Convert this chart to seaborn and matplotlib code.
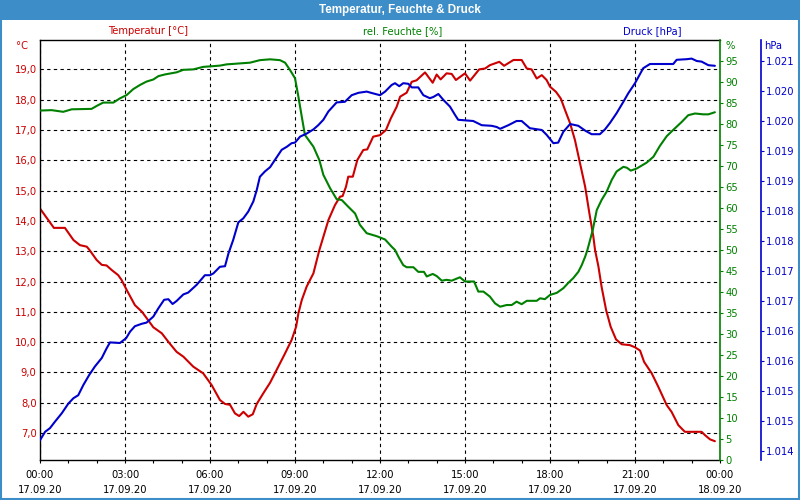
import numpy as np
import pandas as pd
import seaborn as sns
import matplotlib
matplotlib.use("Agg")
import matplotlib.pyplot as plt
from matplotlib.ticker import FuncFormatter, MultipleLocator
from matplotlib.patches import Rectangle

# ---------------- data ----------------
temp_hours = [0.00, 0.49, 0.88, 1.18, 1.41, 1.65, 1.74, 2.00, 2.18, 2.35, 2.53, 2.76, 2.88, 3.06, 3.35,
              3.60, 4.00, 4.30, 4.53, 4.82, 5.06, 5.41, 5.76, 6.06, 6.35, 6.53, 6.71, 6.88, 7.03, 7.18,
              7.35, 7.51, 7.65, 7.88, 8.12, 8.35, 8.65, 8.88, 9.04, 9.12, 9.24, 9.41, 9.65, 9.86, 10.18,
              10.41, 10.59, 10.68, 10.80, 10.88, 11.04, 11.20, 11.41, 11.55, 11.76, 12.00, 12.21, 12.38,
              12.59, 12.71, 12.94, 13.12, 13.29, 13.59, 13.86, 14.00, 14.14, 14.35, 14.53, 14.68, 15.00,
              15.18, 15.50, 15.71, 15.88, 16.21, 16.38, 16.71, 17.00, 17.18, 17.35, 17.53, 17.71, 17.88,
              18.00, 18.21, 18.38, 18.53, 18.71, 18.88, 19.06, 19.24, 19.39, 19.53, 19.59, 19.71, 19.82,
              19.98, 20.14, 20.33, 20.53, 20.82, 21.00, 21.18, 21.32, 21.59, 21.82, 22.12, 22.29, 22.53,
              22.76, 23.35, 23.47, 23.65, 23.82]
temp_values = [14.41, 13.77, 13.77, 13.37, 13.20, 13.15, 13.05, 12.71, 12.55, 12.53, 12.38, 12.21, 12.05,
               11.72, 11.22, 11.00, 10.49, 10.29, 10.01, 9.68, 9.52, 9.19, 8.97, 8.58, 8.09, 7.96, 7.93,
               7.65, 7.56, 7.70, 7.54, 7.62, 7.96, 8.31, 8.66, 9.08, 9.63, 10.07, 10.51, 10.95, 11.39,
               11.83, 12.27, 13.04, 14.03, 14.52, 14.80, 14.82, 15.13, 15.46, 15.46, 16.01, 16.34, 16.36,
               16.78, 16.83, 17.00, 17.38, 17.77, 18.10, 18.23, 18.59, 18.64, 18.90, 18.56, 18.83, 18.67,
               18.87, 18.85, 18.65, 18.87, 18.63, 19.00, 19.03, 19.14, 19.25, 19.12, 19.31, 19.31, 19.03,
               19.00, 18.70, 18.81, 18.65, 18.43, 18.26, 18.04, 17.66, 17.22, 16.67, 15.90, 15.13, 14.25,
               13.48, 13.04, 12.49, 11.83, 11.06, 10.51, 10.09, 9.93, 9.90, 9.83, 9.72, 9.35, 8.97, 8.53,
               7.92, 7.70, 7.26, 7.04, 7.04, 6.93, 6.79, 6.73]

hum_hours = [0.00, 0.41, 0.82, 1.12, 1.82, 2.00, 2.23, 2.59, 2.82, 3.06, 3.29, 3.53, 3.76, 4.00, 4.18,
             4.41, 4.82, 5.06, 5.41, 5.76, 6.35, 6.59, 7.00, 7.41, 7.76, 8.12, 8.47, 8.65, 8.82, 9.00,
             9.12, 9.24, 9.35, 9.65, 9.86, 10.00, 10.24, 10.47, 10.65, 10.88, 11.12, 11.29, 11.53, 11.88,
             12.18, 12.41, 12.53, 12.65, 12.82, 12.94, 13.18, 13.35, 13.55, 13.65, 13.86, 14.00, 14.18,
             14.35, 14.53, 14.82, 15.00, 15.32, 15.47, 15.65, 15.88, 16.06, 16.24, 16.47, 16.65, 16.82,
             17.00, 17.18, 17.53, 17.65, 17.82, 18.00, 18.24, 18.47, 18.65, 18.82, 19.00, 19.12, 19.24,
             19.32, 19.51, 19.65, 19.82, 20.00, 20.18, 20.35, 20.59, 20.71, 20.85, 21.06, 21.41, 21.65,
             21.88, 22.12, 22.35, 22.65, 22.88, 23.12, 23.41, 23.59, 23.82]
hum_values = [83.2, 83.3, 82.9, 83.5, 83.6, 84.3, 85.1, 85.1, 86.1, 86.9, 88.3, 89.3, 90.1, 90.6, 91.4,
              91.8, 92.3, 92.9, 93.0, 93.6, 93.9, 94.2, 94.4, 94.6, 95.2, 95.4, 95.2, 94.6, 92.9, 90.9,
              86.5, 81.7, 77.4, 74.6, 71.4, 67.9, 64.7, 62.1, 61.9, 60.3, 58.7, 56.0, 54.0, 53.3, 52.5,
              50.8, 50.0, 48.4, 46.4, 45.9, 45.9, 44.8, 44.8, 43.7, 44.3, 43.8, 42.7, 42.9, 42.7, 43.5,
              42.5, 42.5, 40.1, 40.1, 38.9, 37.3, 36.5, 36.9, 36.9, 37.7, 37.1, 37.9, 37.9, 38.5, 38.3,
              39.3, 39.8, 40.9, 42.2, 43.3, 44.8, 46.4, 48.4, 50.0, 54.8, 59.5, 61.9, 63.9, 66.7, 68.7,
              69.8, 69.6, 68.9, 69.4, 70.8, 72.2, 74.8, 77.1, 78.6, 80.5, 82.1, 82.5, 82.3, 82.3, 82.8]

press_hours = [0.00, 0.18, 0.35, 0.53, 0.77, 1.00, 1.18, 1.35, 1.53, 1.74, 1.94, 2.18, 2.35, 2.47, 2.82,
               3.04, 3.18, 3.35, 3.59, 3.76, 4.00, 4.18, 4.38, 4.53, 4.68, 4.82, 5.06, 5.23, 5.53, 5.82,
               6.00, 6.12, 6.35, 6.53, 6.65, 6.82, 7.00, 7.18, 7.35, 7.53, 7.65, 7.76, 7.94, 8.12, 8.29,
               8.53, 8.71, 8.88, 9.00, 9.18, 9.41, 9.65, 9.82, 10.00, 10.18, 10.47, 10.76, 11.00, 11.24,
               11.53, 11.76, 12.00, 12.18, 12.41, 12.53, 12.68, 12.82, 13.00, 13.12, 13.35, 13.53, 13.76,
               13.88, 14.06, 14.24, 14.47, 14.65, 14.76, 15.29, 15.59, 15.94, 16.12, 16.24, 16.53, 16.82,
               17.00, 17.29, 17.71, 17.88, 18.12, 18.29, 18.47, 18.71, 19.00, 19.24, 19.47, 19.76, 19.94,
               20.12, 20.35, 20.59, 20.76, 21.00, 21.29, 21.53, 22.35, 22.47, 22.82, 23.00, 23.18, 23.35,
               23.59, 23.82]
press_values = [1014.18, 1014.32, 1014.38, 1014.49, 1014.63, 1014.79, 1014.88, 1014.93, 1015.10, 1015.27,
                1015.41, 1015.55, 1015.71, 1015.81, 1015.80, 1015.88, 1015.99, 1016.08, 1016.12, 1016.14,
                1016.24, 1016.38, 1016.52, 1016.53, 1016.45, 1016.50, 1016.61, 1016.64, 1016.77, 1016.93,
                1016.93, 1016.96, 1017.07, 1017.08, 1017.29, 1017.52, 1017.81, 1017.88, 1017.99, 1018.16,
                1018.35, 1018.57, 1018.66, 1018.73, 1018.85, 1019.02, 1019.07, 1019.13, 1019.14, 1019.24,
                1019.29, 1019.36, 1019.43, 1019.52, 1019.66, 1019.81, 1019.82, 1019.93, 1019.97, 1019.99,
                1019.96, 1019.93, 1019.99, 1020.10, 1020.13, 1020.08, 1020.13, 1020.12, 1020.06, 1020.06,
                1019.93, 1019.88, 1019.90, 1019.95, 1019.85, 1019.74, 1019.60, 1019.52, 1019.50, 1019.43,
                1019.42, 1019.40, 1019.37, 1019.43, 1019.50, 1019.50, 1019.38, 1019.35, 1019.27, 1019.13,
                1019.14, 1019.32, 1019.45, 1019.42, 1019.34, 1019.28, 1019.28, 1019.36, 1019.47, 1019.63,
                1019.82, 1019.96, 1020.13, 1020.38, 1020.45, 1020.45, 1020.52, 1020.53, 1020.54, 1020.50,
                1020.49, 1020.43, 1020.42]

x_tick_hours = [0, 3, 6, 9, 12, 15, 18, 21, 24]
x_tick_labels = ["00:00\n17.09.20", "03:00\n17.09.20", "06:00\n17.09.20", "09:00\n17.09.20",
                 "12:00\n17.09.20", "15:00\n17.09.20", "18:00\n17.09.20", "21:00\n17.09.20",
                 "00:00\n18.09.20"]
temp_ticks = [7, 8, 9, 10, 11, 12, 13, 14, 15, 16, 17, 18, 19]
hum_ticks = list(range(0, 100, 5))
press_ticks = [1014.0, 1014.5, 1015.0, 1015.5, 1016.0, 1016.5, 1017.0, 1017.5, 1018.0, 1018.5,
               1019.0, 1019.5, 1020.0, 1020.5]

title = "Temperatur, Feuchte & Druck"
series_names = ["Temperatur [°C]", "rel. Feuchte [%]", "Druck [hPa]"]

# ---------------- style ----------------
RED = "#cc0000"
GREEN = "#008000"
BLUE = "#0000cc"
FRAME = "#3d8ec8"

sns.set_theme(style="white")
plt.rcParams["font.family"] = ["DejaVu Sans"]
FS = 7.2

fig = plt.figure(figsize=(8, 5), dpi=100)
fig.patch.set_facecolor("white")
W, H = 800, 500


def fx(px):
    return px / W


def fy(py):
    return 1 - py / H


ax = fig.add_axes([fx(40), fy(460), fx(680), 420 / H])
ax.set_facecolor("white")
ax2 = ax.twinx()
ax3 = ax.twinx()

df_t = pd.DataFrame({"h": temp_hours, "v": temp_values})
df_h = pd.DataFrame({"h": hum_hours, "v": hum_values})
df_p = pd.DataFrame({"h": press_hours, "v": press_values})

sns.lineplot(data=df_h, x="h", y="v", ax=ax2, color=GREEN, lw=1.5, estimator=None, sort=False)
sns.lineplot(data=df_p, x="h", y="v", ax=ax3, color=BLUE, lw=1.5, estimator=None, sort=False)
sns.lineplot(data=df_t, x="h", y="v", ax=ax, color=RED, lw=1.5, estimator=None, sort=False)

for a in (ax, ax2, ax3):
    a.set_xlabel("")
    a.set_ylabel("")
    a.set_xlim(0, 24)

ax.set_ylim(6.11, 19.97)
ax2.set_ylim(0, 100)
ax3.set_ylim(1013.85, 1020.85)

# grid / main axis
ax.set_yticks(temp_ticks)
ax.yaxis.set_major_formatter(FuncFormatter(lambda v, p: f"{v:.1f}".replace(".", ",")))
ax.set_xticks(x_tick_hours)
ax.set_xticklabels(x_tick_labels, fontsize=FS, color="black", linespacing=1.6)
ax.xaxis.set_minor_locator(MultipleLocator(1))
ax.grid(True, which="major", axis="both", color="black", linestyle=(0, (3, 3)), linewidth=0.8)
ax.set_axisbelow(True)
ax.tick_params(axis="y", which="both", left=True, length=0, pad=2.5, labelsize=FS, labelcolor=RED)
ax.tick_params(axis="x", which="both", bottom=True, direction="out", length=2.5, width=0.8,
               color="black", pad=5)
for s in ("left", "top", "bottom"):
    ax.spines[s].set_color("black")
    ax.spines[s].set_linewidth(1.0)
ax.spines["right"].set_visible(False)

# humidity axis
ax2.set_yticks(hum_ticks)
ax2.tick_params(axis="y", right=True, direction="out", length=2.5, width=0.8, color=GREEN,
                labelsize=FS, labelcolor=GREEN, pad=1.5)
ax2.tick_params(axis="x", bottom=False, labelbottom=False)
ax2.spines["right"].set_color(GREEN)
ax2.spines["right"].set_linewidth(1.2)
for s in ("left", "top", "bottom"):
    ax2.spines[s].set_visible(False)

# pressure axis
ax3.spines["right"].set_position(("axes", (760.5 - 40) / 680))
ax3.set_yticks(press_ticks)


def pfmt(v, p):
    n = int(np.floor(v + 0.5))
    return f"{n // 1000}.{n % 1000:03d}"


ax3.yaxis.set_major_formatter(FuncFormatter(pfmt))
ax3.tick_params(axis="y", right=True, direction="out", length=2.5, width=0.8, color=BLUE,
                labelsize=FS, labelcolor=BLUE, pad=1.5)
ax3.tick_params(axis="x", bottom=False, labelbottom=False)
ax3.spines["right"].set_color(BLUE)
ax3.spines["right"].set_linewidth(1.2)
for s in ("left", "top", "bottom"):
    ax3.spines[s].set_visible(False)

# unit labels
fig.text(fx(28), fy(46), "°C", color=RED, fontsize=FS, ha="right", va="center")
fig.text(fx(725), fy(46), "%", color=GREEN, fontsize=FS, ha="left", va="center")
fig.text(fx(764), fy(46), "hPa", color=BLUE, fontsize=FS, ha="left", va="center")

# series names
fig.text(fx(148), fy(31), series_names[0], color=RED, fontsize=FS, ha="center", va="center")
fig.text(fx(403), fy(31), series_names[1], color=GREEN, fontsize=FS, ha="center", va="center")
fig.text(fx(652), fy(31), series_names[2], color=BLUE, fontsize=FS, ha="center", va="center")

# title bar and border
fig.patches.append(Rectangle((0, fy(20)), 1, 20 / H, transform=fig.transFigure,
                             facecolor=FRAME, edgecolor="none", zorder=-1))
fig.patches.append(Rectangle((0.001, 0.002), 0.998, 0.996, transform=fig.transFigure,
                             facecolor="none", edgecolor=FRAME, linewidth=1.5, zorder=10))
fig.text(0.5, fy(10), title, color="white", fontsize=8.4, fontweight="bold",
         ha="center", va="center", family=["Liberation Sans", "DejaVu Sans"])

fig.savefig("out.png", dpi=100)
